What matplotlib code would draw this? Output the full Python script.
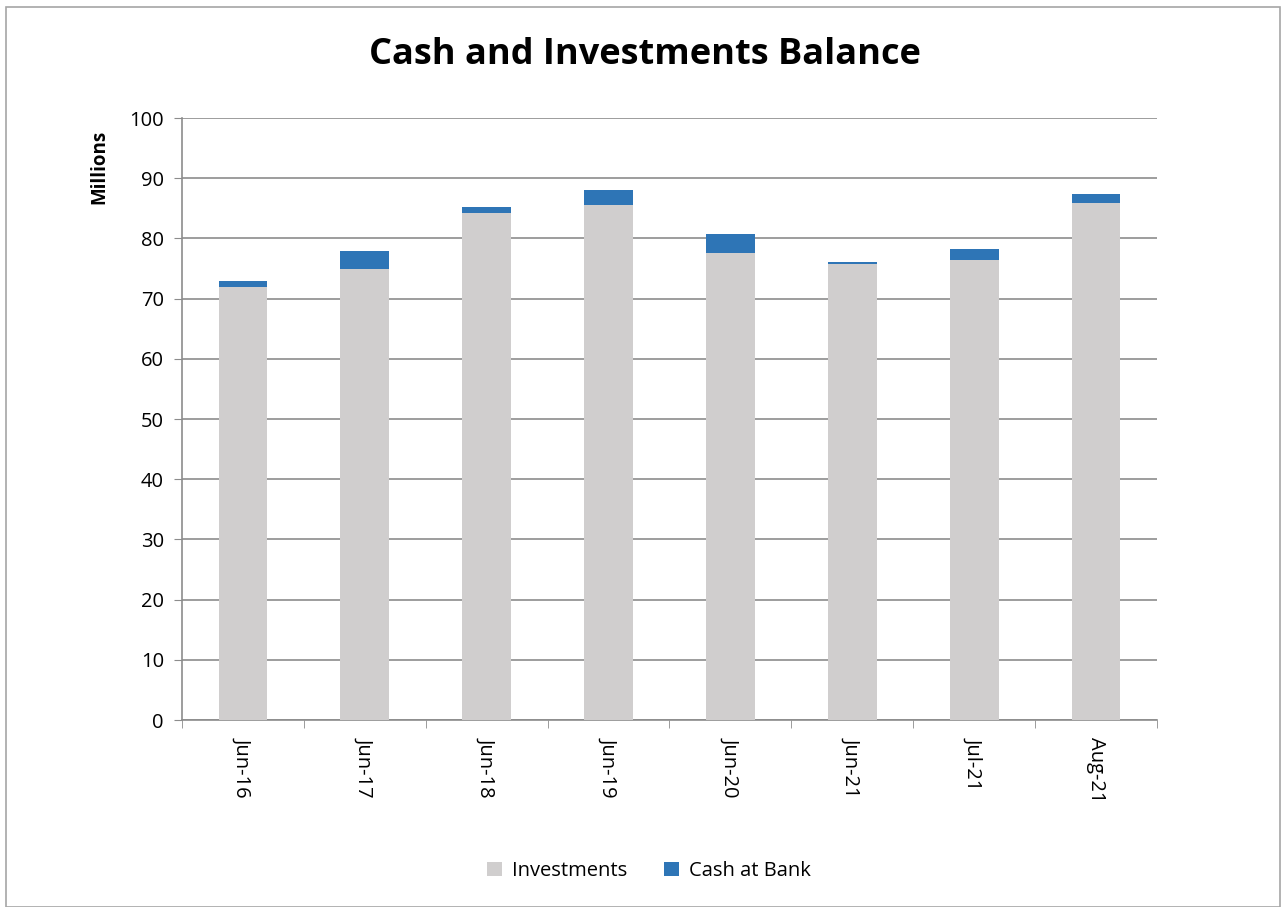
import numpy as np
import matplotlib
matplotlib.use('Agg')
import matplotlib.pyplot as plt
from matplotlib.patches import Rectangle

plt.rcParams['font.family'] = ['Open Sans', 'DejaVu Sans']

periods = ['Jun-16', 'Jun-17', 'Jun-18', 'Jun-19', 'Jun-20', 'Jun-21', 'Jul-21', 'Aug-21']
investments = [72.0, 74.9, 84.3, 85.6, 77.6, 75.7, 76.4, 85.9]
cash_at_bank = [0.95, 3.05, 0.95, 2.45, 3.1, 0.4, 1.85, 1.55]

fig = plt.figure(figsize=(12.85, 9.07), dpi=100)
ax = fig.add_axes([182 / 1285, 1 - 720 / 907, 975 / 1285, 602 / 907])

# light border round the chart area
fig.patches.append(Rectangle((6 / 1285, 0), 1274 / 1285, 1 - 7 / 907, transform=fig.transFigure,
                             fill=False, edgecolor='#A6A6A6', linewidth=1.2))

x = np.arange(len(periods))
ax.bar(x, investments, width=0.4, color='#D0CECE', label='Investments', zorder=3)
ax.bar(x, cash_at_bank, width=0.4, bottom=investments, color='#2E75B6', label='Cash at Bank', zorder=3)

ax.set_xlim(-0.5, len(periods) - 0.5)
ax.set_ylim(0, 100)
ax.set_yticks(range(0, 101, 10))
ax.yaxis.grid(True, color='#8C8C8C', linewidth=1.2, zorder=0)
ax.set_xticks(x)
ax.set_xticklabels(periods, rotation=270, fontsize=14.5)
ax.set_xticks(np.arange(-0.5, len(periods)), minor=True)
ax.tick_params(axis='x', which='major', length=0, pad=12)
ax.tick_params(axis='x', which='minor', length=6, color='#8C8C8C', direction='out')
ax.tick_params(axis='y', length=6, color='#8C8C8C', labelsize=14.5, pad=7)

for side in ['top', 'right']:
    ax.spines[side].set_visible(False)
for side in ['left', 'bottom']:
    ax.spines[side].set_color('#8C8C8C')
    ax.spines[side].set_linewidth(1.2)

fig.text(99 / 1285, 1 - 167 / 907, 'Millions', rotation=90, ha='center', va='center',
         fontsize=13.5, fontweight='bold')
fig.text(0.5016, 1 - 55 / 907, 'Cash and Investments Balance', ha='center', va='center',
         fontsize=26, fontweight='bold')

fig.legend(loc='center', bbox_to_anchor=(649 / 1285, 1 - 871 / 907), ncol=2, frameon=False,
           fontsize=14.5, handlelength=0.75, handleheight=0.75, columnspacing=1.8, handletextpad=0.5)

fig.savefig('out.png', dpi=100)
